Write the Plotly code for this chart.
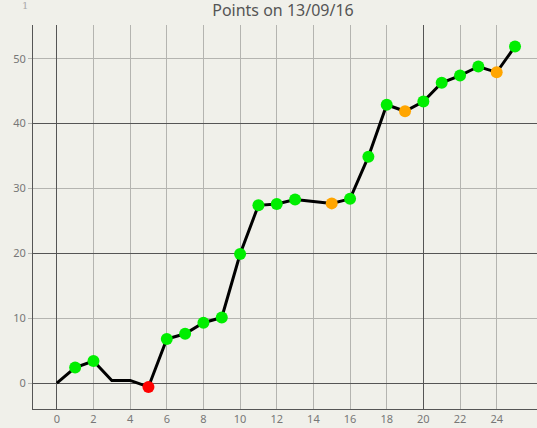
import plotly.graph_objects as go

x_vals = list(range(0, 26))
points = [0, 2.4, 3.4, 0.4, 0.4, -0.6, 6.8, 7.6, 9.3, 10.1, 19.9, 27.4, 27.6, 28.3,
          28.0, 27.7, 28.4, 34.9, 42.9, 41.9, 43.4, 46.3, 47.4, 48.8, 47.9, 51.9]
status = ["none", "g", "g", "none", "none", "r", "g", "g", "g", "g", "g", "g", "g", "g",
          "none", "o", "g", "g", "g", "o", "g", "g", "g", "g", "o", "g"]
x_ticks = list(range(0, 26, 2))
y_ticks = [0, 10, 20, 30, 40, 50]

color_map = {"g": "#00ee00", "o": "#ffa500", "r": "#ff0000", "none": "rgba(0,0,0,0)"}
marker_colors = [color_map[s] for s in status]

xr = [-1.3, 26.2]
yr = [-4.0, 55.2]
bg = "#f0f0ea"
font = "Noto Sans"

fig = go.Figure()
fig.add_trace(go.Scatter(x=[None], y=[None], xaxis="x", yaxis="y", showlegend=False))
fig.add_trace(go.Scatter(
    x=x_vals, y=points, xaxis="x2", yaxis="y2", mode="lines+markers",
    line=dict(color="black", width=3),
    marker=dict(size=12, color=marker_colors, line=dict(width=0)),
    showlegend=False, hoverinfo="x+y",
))

fig.update_layout(
    width=537, height=428,
    margin=dict(l=33, r=0, t=25, b=19),
    paper_bgcolor=bg, plot_bgcolor=bg,
    title=dict(text="Points on 13/09/16", x=0.527, xanchor="center", y=0.975, yanchor="middle",
               font=dict(family=font, size=16, color="#555555")),
    xaxis=dict(range=xr, tickvals=x_ticks, showgrid=True, gridcolor="#b4b4b0", gridwidth=1,
               zeroline=False, showline=True, linecolor="#555555", linewidth=1, automargin=False,
               tickfont=dict(family=font, size=11, color="#777777"), ticks="", ticklen=0,
               fixedrange=True),
    yaxis=dict(range=yr, tickvals=y_ticks, showgrid=True, gridcolor="#b4b4b0", gridwidth=1,
               zeroline=False, showline=True, linecolor="#555555", linewidth=1, automargin=False,
               tickfont=dict(family=font, size=11, color="#777777"), ticks="outside",
               ticklen=4, tickcolor="#b4b4b0", fixedrange=True),
    xaxis2=dict(range=xr, overlaying="x", tickvals=[0, 20], showgrid=True, gridcolor="#555555",
                gridwidth=1, zeroline=False, showticklabels=False, showline=False, fixedrange=True,
                automargin=False),
    yaxis2=dict(range=yr, overlaying="y", tickvals=[0, 20, 40], showgrid=True, gridcolor="#555555",
                gridwidth=1, zeroline=False, showticklabels=False, showline=False, fixedrange=True,
                automargin=False),
    annotations=[dict(text="1", xref="paper", yref="paper", x=-0.015, y=1.05, showarrow=False,
                      font=dict(family="DejaVu Serif", size=10, color="#aaaaaa"),
                      xanchor="center", yanchor="middle")],
)

fig.write_html("out.html", config={"displayModeBar": False},
               post_script="document.body.style.margin='0';document.body.style.background='%s';" % bg)
